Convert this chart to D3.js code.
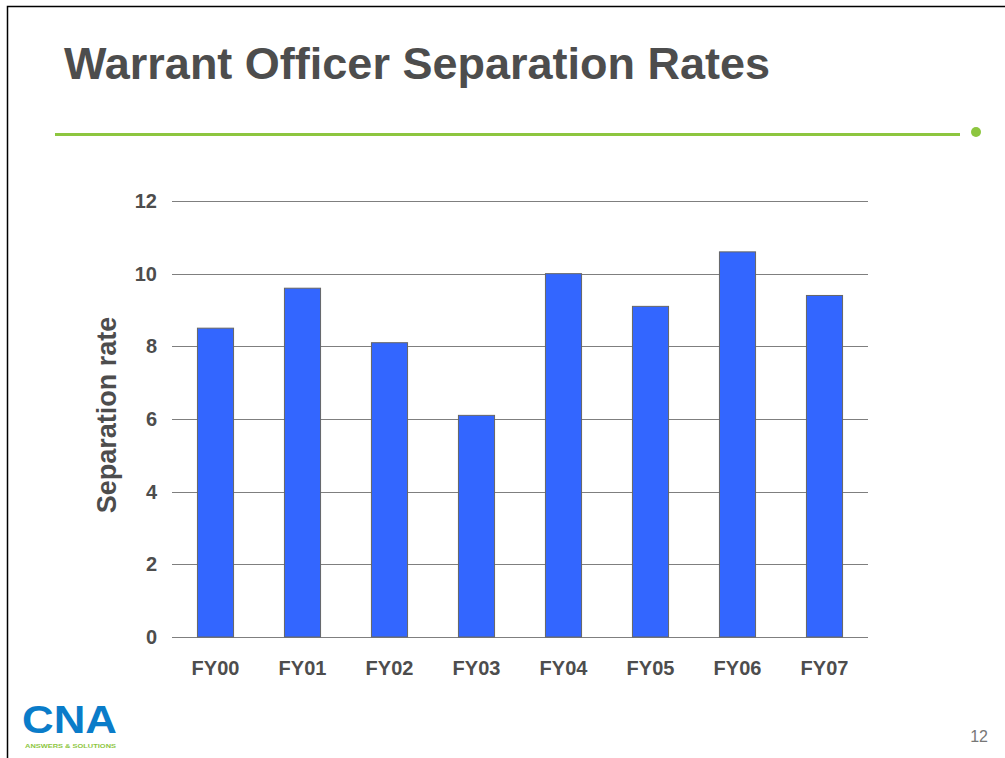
<!DOCTYPE html>
<html>
<head>
<meta charset="utf-8">
<script src="https://cdn.jsdelivr.net/npm/d3@7/dist/d3.min.js"></script>
<style>
  body { margin: 0; background: #fff; }
  svg { display: block; font-family: "Liberation Sans", Arial, sans-serif; }
</style>
</head>
<body>
<svg id="chart" width="1005" height="758"></svg>
<script>
const categories = ["FY00", "FY01", "FY02", "FY03", "FY04", "FY05", "FY06", "FY07"];
const rates = [8.5, 9.6, 8.1, 6.1, 10.0, 9.1, 10.6, 9.4];
const yTicks = [0, 2, 4, 6, 8, 10, 12];

const svg = d3.select("#chart");

// slide frame
svg.append("path")
  .attr("d", "M7.5,758 L7.5,6.5 L1005,6.5")
  .attr("fill", "none")
  .attr("stroke", "#000")
  .attr("stroke-width", 1.5);

// title
svg.append("text")
  .attr("x", 64)
  .attr("y", 79)
  .attr("font-size", 45)
  .attr("font-weight", "bold")
  .attr("fill", "#4d4d4d")
  .text("Warrant Officer Separation Rates");

// green rule + dot
svg.append("line")
  .attr("x1", 55).attr("x2", 960)
  .attr("y1", 134.5).attr("y2", 134.5)
  .attr("stroke", "#8dc63f")
  .attr("stroke-width", 3);
svg.append("circle")
  .attr("cx", 976).attr("cy", 132).attr("r", 5)
  .attr("fill", "#8dc63f");

// SCALES
const x = d3.scaleBand()
  .domain(categories)
  .range([172, 868])
  .paddingInner(0.585)
  .paddingOuter(0.2925);

const y = d3.scaleLinear()
  .domain([0, 12])
  .range([637, 201]);

// GRIDLINES
svg.append("g")
  .selectAll("line")
  .data(yTicks)
  .join("line")
  .attr("x1", 172).attr("x2", 868)
  .attr("y1", d => Math.round(y(d)) + 0.5)
  .attr("y2", d => Math.round(y(d)) + 0.5)
  .attr("stroke", "#7f7f7f")
  .attr("stroke-width", 1);

// BARS
svg.append("g")
  .selectAll("rect")
  .data(rates)
  .join("rect")
  .attr("x", (d, i) => x(categories[i]))
  .attr("width", x.bandwidth())
  .attr("y", d => y(d))
  .attr("height", d => y(0) - y(d))
  .attr("fill", "#3366ff")
  .attr("stroke", "#666")
  .attr("stroke-width", 1);

// Y AXIS
const yAxis = d3.axisLeft(y).tickValues(yTicks).tickSize(0).tickPadding(0);
const gy = svg.append("g")
  .attr("transform", "translate(157,0)")
  .call(yAxis);
gy.select(".domain").remove();
gy.selectAll("text")
  .attr("font-family", "Liberation Sans, Arial, sans-serif")
  .attr("font-size", 20)
  .attr("font-weight", "bold")
  .attr("fill", "#4d4d4d");

// X AXIS
const xAxis = d3.axisBottom(x).tickSize(0).tickPadding(0);
const gx = svg.append("g")
  .attr("transform", "translate(0,661)")
  .call(xAxis);
gx.select(".domain").remove();
gx.selectAll("text")
  .attr("dy", "0.71em")
  .attr("font-family", "Liberation Sans, Arial, sans-serif")
  .attr("font-size", 20)
  .attr("font-weight", "bold")
  .attr("fill", "#4d4d4d");

// y axis title
svg.append("text")
  .attr("transform", "translate(116,415) rotate(-90)")
  .attr("text-anchor", "middle")
  .attr("font-size", 27)
  .attr("font-weight", "bold")
  .attr("fill", "#4d4d4d")
  .text("Separation rate");

// CNA logo
svg.append("text")
  .attr("x", 22)
  .attr("y", 733)
  .attr("font-size", 39)
  .attr("font-weight", "bold")
  .attr("fill", "#0a7cc9")
  .attr("textLength", 95)
  .attr("lengthAdjust", "spacingAndGlyphs")
  .text("CNA");
svg.append("text")
  .attr("x", 25)
  .attr("y", 748)
  .attr("font-size", 5.5)
  .attr("font-weight", "bold")
  .attr("fill", "#8dc63f")
  .attr("textLength", 91)
  .attr("lengthAdjust", "spacingAndGlyphs")
  .text("ANSWERS & SOLUTIONS");

// page number
svg.append("text")
  .attr("x", 988)
  .attr("y", 742)
  .attr("text-anchor", "end")
  .attr("font-size", 16)
  .attr("fill", "#777")
  .text("12");
</script>
</body>
</html>
